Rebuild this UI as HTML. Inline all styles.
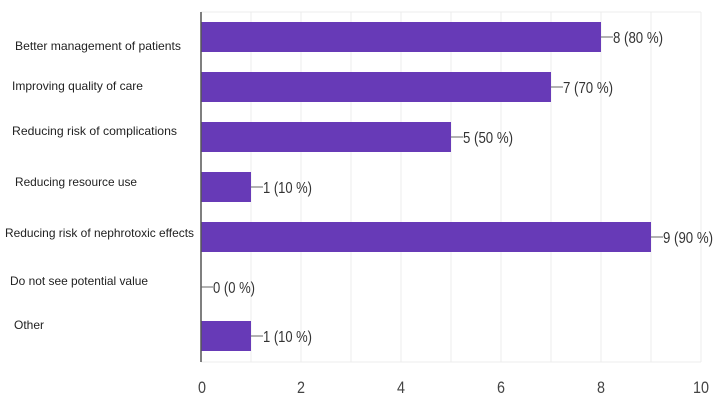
<!DOCTYPE html>
<html><head><style>
body{margin:0;background:#fff;}
svg text{font-family:"Liberation Sans",sans-serif;}
</style></head><body>
<svg width="720" height="410" xmlns="http://www.w3.org/2000/svg">
<rect width="720" height="410" fill="#fff"/>
<g stroke="#ececec" stroke-width="1">
<line x1="251" y1="12" x2="251" y2="362"/><line x1="301" y1="12" x2="301" y2="362"/>
<line x1="351" y1="12" x2="351" y2="362"/><line x1="401" y1="12" x2="401" y2="362"/>
<line x1="451" y1="12" x2="451" y2="362"/><line x1="501" y1="12" x2="501" y2="362"/>
<line x1="551" y1="12" x2="551" y2="362"/><line x1="601" y1="12" x2="601" y2="362"/>
<line x1="651" y1="12" x2="651" y2="362"/><line x1="701" y1="12" x2="701" y2="362"/>
<line x1="201" y1="12" x2="701" y2="12"/><line x1="201" y1="362" x2="701" y2="362"/>
</g>
<g fill="#673ab7">
<rect x="201" y="22" width="400" height="30"/>
<rect x="201" y="72" width="350" height="30"/>
<rect x="201" y="122" width="250" height="30"/>
<rect x="201" y="172" width="50" height="30"/>
<rect x="201" y="222" width="450" height="30"/>
<rect x="201" y="321" width="50" height="30"/>
</g>
<line x1="201" y1="12" x2="201" y2="362" stroke="#555" stroke-width="1.5"/>
<g stroke="#666" stroke-width="1">
<line x1="601" y1="37" x2="613" y2="37"/><line x1="551" y1="87" x2="563" y2="87"/>
<line x1="451" y1="137" x2="463" y2="137"/><line x1="251" y1="187" x2="263" y2="187"/>
<line x1="651" y1="237" x2="663" y2="237"/><line x1="201" y1="287" x2="213" y2="287"/>
<line x1="251" y1="336" x2="263" y2="336"/>
</g>
<g font-size="16" fill="#333">
<text x="613" y="43" textLength="50" lengthAdjust="spacingAndGlyphs">8 (80 %)</text>
<text x="563" y="93" textLength="50" lengthAdjust="spacingAndGlyphs">7 (70 %)</text>
<text x="463" y="143" textLength="50" lengthAdjust="spacingAndGlyphs">5 (50 %)</text>
<text x="263" y="193" textLength="49" lengthAdjust="spacingAndGlyphs">1 (10 %)</text>
<text x="663" y="243" textLength="50" lengthAdjust="spacingAndGlyphs">9 (90 %)</text>
<text x="213" y="293" textLength="42" lengthAdjust="spacingAndGlyphs">0 (0 %)</text>
<text x="263" y="342" textLength="49" lengthAdjust="spacingAndGlyphs">1 (10 %)</text>
</g>
<g font-size="12" fill="#222">
<text x="15" y="50" textLength="166" lengthAdjust="spacingAndGlyphs">Better management of patients</text>
<text x="12" y="90" textLength="131" lengthAdjust="spacingAndGlyphs">Improving quality of care</text>
<text x="12" y="135" textLength="165" lengthAdjust="spacingAndGlyphs">Reducing risk of complications</text>
<text x="15" y="186" textLength="122" lengthAdjust="spacingAndGlyphs">Reducing resource use</text>
<text x="5" y="237" textLength="189" lengthAdjust="spacingAndGlyphs">Reducing risk of nephrotoxic effects</text>
<text x="10" y="285" textLength="138" lengthAdjust="spacingAndGlyphs">Do not see potential value</text>
<text x="14" y="329">Other</text>
</g>
<g font-size="17" fill="#444" text-anchor="middle">
<text x="202" y="393" textLength="8" lengthAdjust="spacingAndGlyphs">0</text>
<text x="301" y="393" textLength="8" lengthAdjust="spacingAndGlyphs">2</text>
<text x="401" y="393" textLength="8" lengthAdjust="spacingAndGlyphs">4</text>
<text x="501" y="393" textLength="8" lengthAdjust="spacingAndGlyphs">6</text>
<text x="601" y="393" textLength="8" lengthAdjust="spacingAndGlyphs">8</text>
<text x="701" y="393" textLength="16" lengthAdjust="spacingAndGlyphs">10</text>
</g>
</svg>
</body></html>
